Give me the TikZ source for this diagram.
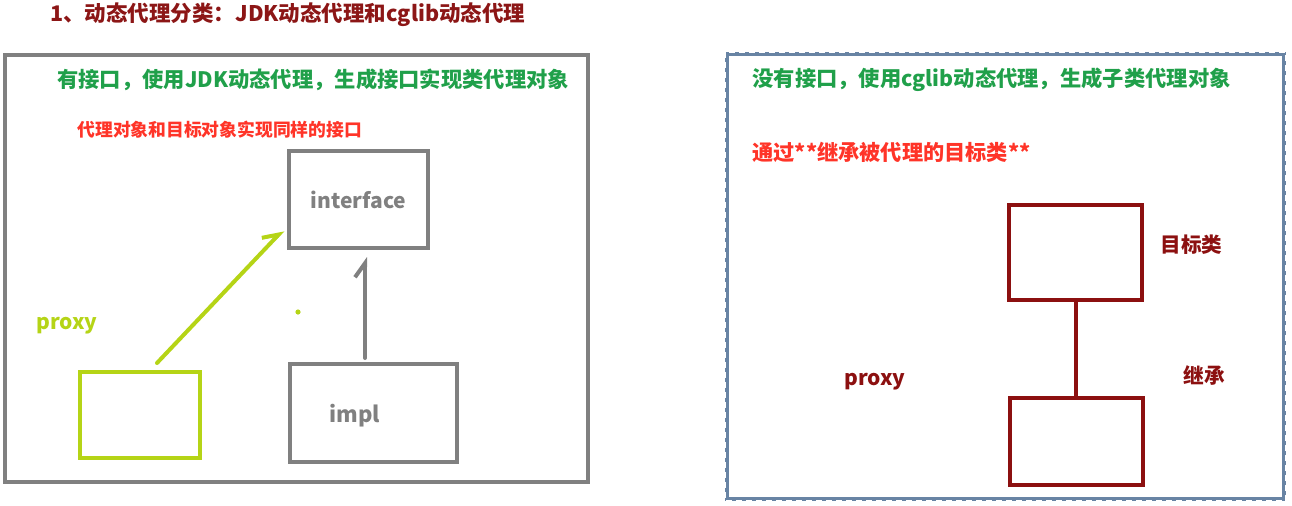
\documentclass[tikz,border=0pt]{standalone}
\usepackage{fontspec}
\setmainfont{Noto Sans CJK SC}
\usepackage{tikz}
\usetikzlibrary{arrows.meta}
\usetikzlibrary{positioning}
\definecolor{titlered}{RGB}{140,22,22}
\definecolor{txtgreen}{RGB}{32,160,74}
\definecolor{txtred}{RGB}{255,52,40}
\definecolor{limegreen}{RGB}{181,212,22}
\definecolor{boxgray}{RGB}{128,128,128}
\definecolor{darkred}{RGB}{140,16,16}
\definecolor{selblue}{RGB}{104,132,164}

\begin{document}
\begin{tikzpicture}[x=0.5pt,y=-0.5pt,
	every node/.style={font=\bfseries,inner sep=0pt},
	box/.style={draw,line width=2pt,inner sep=0pt},
	barb/.style={line width=2pt,line cap=round,-{Straight Barb[left,length=7pt,width=10pt]}}]
	\useasboundingbox (0,0) rectangle (1292,505);
	\node[anchor=west,titlered,font=\bfseries\fontsize{10.75}{13}\selectfont] (title) at (50,15) {1、动态代理分类：JDK动态代理和cglib动态代理};
	\node[box,boxgray,minimum width=291.5pt,minimum height=213.5pt] (jdkframe) at (296.5,268.5) {};
	\node[anchor=west,txtgreen,font=\bfseries\fontsize{10.65}{13}\selectfont] (jdktext) at (57,80) {有接口，使用JDK动态代理，生成接口实现类代理对象};
	\node[anchor=west,txtred,font=\bfseries\fontsize{8.9}{11}\selectfont] (jdknote) at (77,130) {代理对象和目标对象实现同样的接口};
	\node[box,boxgray,minimum width=69.5pt,minimum height=48.5pt,text=gray,font=\bfseries\fontsize{10.5}{13}\selectfont] (iface) at (358.5,199.5) {interface};
	\node[box,limegreen,minimum width=60pt,minimum height=43pt] (pbox) at (140,415) {};
	\node[box,boxgray,minimum width=83.5pt,minimum height=49pt] (impl) at (373.5,413) {};
	\node[text=gray,font=\bfseries\fontsize{11}{13}\selectfont] (impltext) at (355,416) {impl};
	\node[limegreen,font=\bfseries\fontsize{10.5}{13}\selectfont] (plabel) at (67,326) {proxy};
	\fill[limegreen] (298,312) circle (1.3pt);
	\draw[limegreen,barb] ([xshift=8.5pt,yshift=3.5pt]pbox.north) -- ([xshift=-2pt,yshift=10pt]iface.south west);
	\draw[boxgray,barb] ([xshift=-4.25pt,yshift=2pt]impl.north) -- ([xshift=3.25pt,yshift=-3.5pt]iface.south);
	\node[draw=selblue,line width=2pt,inner sep=0pt,minimum width=278.5pt,minimum height=222.5pt] (cgframe) at (1005.5,276.5) {};
	\draw[white,line width=0.6pt,dash pattern=on 3pt off 2pt] (cgframe.north west) rectangle (cgframe.south east);
	\node[anchor=west,txtgreen,font=\bfseries\fontsize{10.65}{13}\selectfont] (cgtext) at (752,80) {没有接口，使用cglib动态代理，生成子类代理对象};
	\node[anchor=west,txtred,font=\bfseries\fontsize{10.6}{13}\selectfont] (cgnote) at (752,152) {通过**继承被代理的目标类**};
	\node[box,darkred,minimum width=66.5pt,minimum height=47.5pt] (target) at (1075.5,252.5) {};
	\node[box,darkred,minimum width=66.5pt,minimum height=43.5pt] (sub) at (1076.5,441.5) {};
	\draw[darkred,line width=2pt] (target.south) -- (target.south |- sub.north);
	\node[anchor=west,darkred,font=\bfseries\fontsize{10.3}{13}\selectfont] (tlabel) at (1160,245) {目标类};
	\node[darkred,font=\bfseries\fontsize{10.3}{13}\selectfont] (ilabel) at (1204,375) {继承};
	\node[darkred,font=\bfseries\fontsize{10.5}{13}\selectfont] (slabel) at (875,382) {proxy};
\end{tikzpicture}
\end{document}
